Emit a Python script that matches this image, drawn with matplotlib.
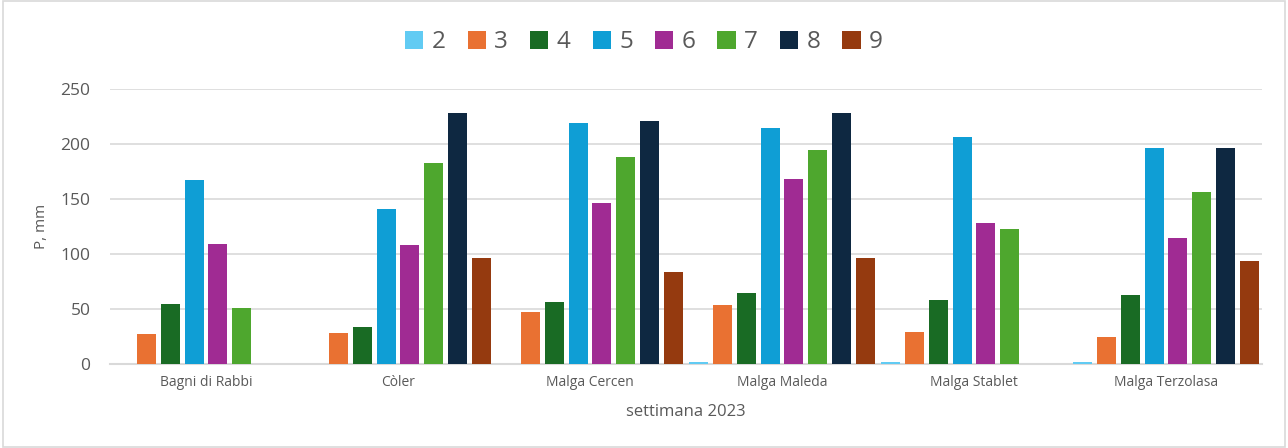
import numpy as np
import matplotlib
matplotlib.use("Agg")
import matplotlib.pyplot as plt
from matplotlib.patches import Rectangle

plt.rcParams['font.family'] = ['Open Sans', 'DejaVu Sans']

stations = ["Bagni di Rabbi", "Còler", "Malga Cercen", "Malga Maleda", "Malga Stablet", "Malga Terzolasa"]
weeks = ["2", "3", "4", "5", "6", "7", "8", "9"]

nan = np.nan
w2 = [nan, nan, nan, 1.5, 2, 1.5]
w3 = [27, 28, 47.5, 54, 29, 24.5]
w4 = [55, 34, 56.5, 64.5, 58, 62.5]
w5 = [167, 141, 219.5, 214.5, 206, 196]
w6 = [109, 108, 146.5, 168, 128, 115]
w7 = [51, 182.5, 188.5, 194.5, 123, 156]
w8 = [nan, 228, 220.5, 228.5, nan, 196.5]
w9 = [nan, 96, 83.5, 96, nan, 93.5]
series = [w2, w3, w4, w5, w6, w7, w8, w9]

colors = ["#61CBF3", "#E97132", "#196B24", "#0F9ED5", "#A02B93", "#4EA72E", "#0E2841", "#953A0F"]

fig = plt.figure(figsize=(12.88, 4.48), dpi=100)
ax = fig.add_axes([0.0854, 0.1875, 0.8944, 0.6138])

x = np.arange(len(stations))
slot = 0.1237
width = 0.099
for i, (vals, c, lab) in enumerate(zip(series, colors, weeks)):
    off = (i - 3.5) * slot
    ax.bar(x + off, vals, width=width, color=c, label=lab,
           edgecolor="none", zorder=3)

ax.set_xlim(-0.5, len(stations) - 0.5)
ax.set_ylim(0, 250)
ax.set_yticks(np.arange(0, 251, 50))
ax.yaxis.grid(True, color="#d9d9d9", linewidth=1.2, zorder=0)
ax.set_axisbelow(True)
for s in ["top", "right", "left"]:
    ax.spines[s].set_visible(False)
ax.spines["bottom"].set_color("#d9d9d9")
ax.spines["bottom"].set_linewidth(1.5)
ax.spines["bottom"].set_zorder(2)
ax.tick_params(axis="y", length=0, labelsize=12.5, labelcolor="#595959", pad=14)
ax.tick_params(axis="x", length=0, labelsize=10, labelcolor="#595959", pad=8)
ax.set_xticks(x)
ax.set_xticklabels(stations)
ax.set_xlabel("settimana 2023", fontsize=12, color="#595959", labelpad=10)
ax.set_ylabel("P, mm", fontsize=11, color="#595959", labelpad=8)

leg = fig.legend(loc="center", bbox_to_anchor=(0.5, 0.906), ncol=8, frameon=False,
                 fontsize=17.5, handlelength=0.75, handleheight=0.75,
                 handletextpad=0.35, columnspacing=0.9, labelcolor="#595959")

fig.patches.append(Rectangle((0.002, 0.003), 0.996, 0.994, transform=fig.transFigure,
                             fill=False, edgecolor="#d9d9d9", linewidth=1.2))

fig.savefig("out.png", dpi=100, facecolor="white")
